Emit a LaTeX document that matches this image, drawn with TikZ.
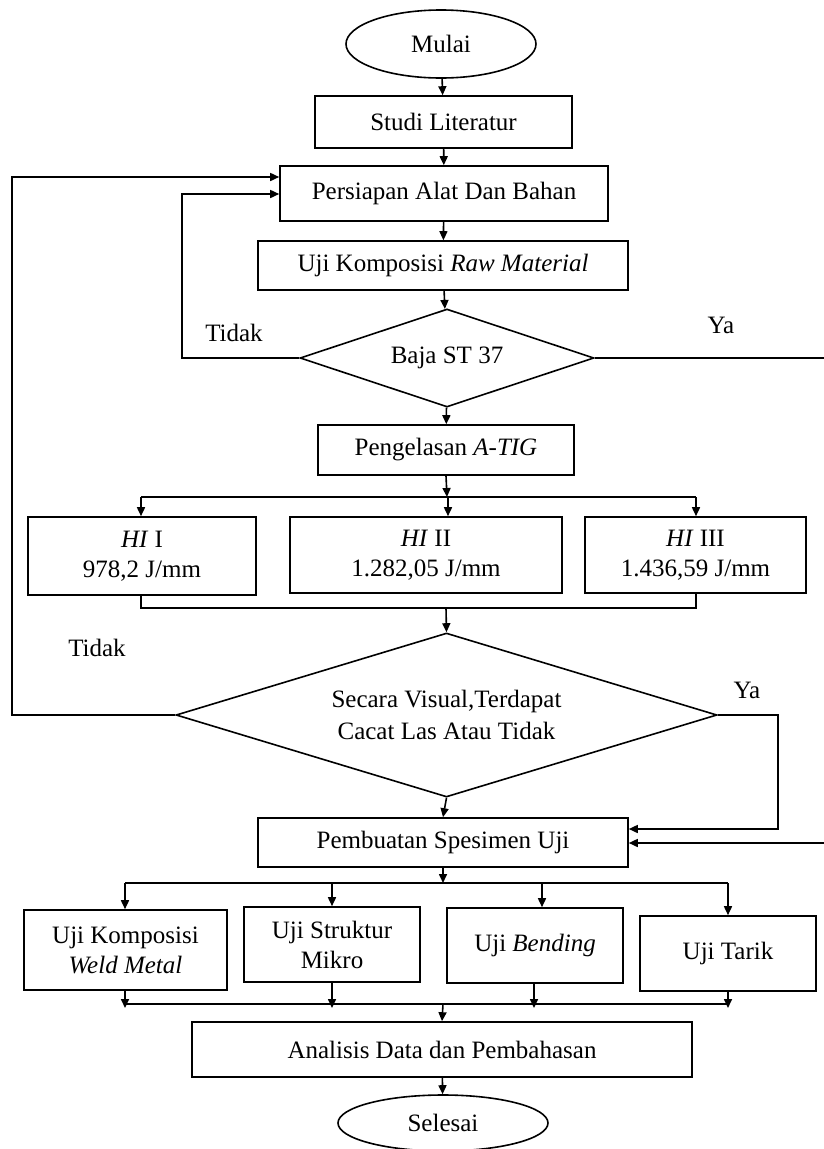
\documentclass[tikz,border=0pt]{standalone}
\usepackage{fontspec}
\setmainfont{Liberation Serif}
\usetikzlibrary{shapes.geometric,arrows.meta}
\begin{document}
\begin{tikzpicture}[x=1pt,y=-1pt, line width=1.6pt, font=\fontsize{25}{30}\selectfont,
  box/.style={draw, rectangle, inner sep=0pt, align=center},
  term/.style={draw, ellipse, inner sep=0pt},
  dec/.style={draw, diamond, inner sep=0pt, align=center},
  arr/.style={-{Triangle[length=9pt,width=8pt]}},
  lbl/.style={inner sep=0pt}]
\useasboundingbox (0,0) rectangle (824,1149);

% nodes
\node[term, minimum width=190pt, minimum height=68pt] (mulai) at (441,44) {Mulai};
\node[box, minimum width=257pt, minimum height=52pt] (studi) at (443.5,122) {Studi Literatur};
\node[box, minimum width=328pt, minimum height=55pt] (persiapan) at (444,193.5) {Persiapan Alat Dan Bahan};
\node[box, minimum width=370pt, minimum height=49pt] (raw) at (443,265.5) {Uji Komposisi \textit{Raw Material}};
\node[dec, aspect=3, minimum width=294pt, minimum height=98pt] (baja) at (447,358) {Baja ST 37};
\node[box, minimum width=256pt, minimum height=50pt] (las) at (446,450) {Pengelasan \textit{A-TIG}};
\node[box, minimum width=228pt, minimum height=78pt] (hi1) at (142,556) {\textit{HI} I\\978,2 J/mm};
\node[box, minimum width=272pt, minimum height=76pt] (hi2) at (426,555) {\textit{HI} II\\1.282,05 J/mm};
\node[box, minimum width=221pt, minimum height=76pt] (hi3) at (695.5,555) {\textit{HI} III\\1.436,59 J/mm};
\node[dec, aspect=3.3, minimum width=541pt, minimum height=164pt, font=\fontsize{25}{32}\selectfont] (visual) at (446.5,715) {Secara Visual,Terdapat\\Cacat Las Atau Tidak};
\node[box, minimum width=370pt, minimum height=49pt] (spes) at (443,842.5) {Pembuatan Spesimen Uji};
\node[box, minimum width=203pt, minimum height=80pt] (k1) at (125.5,950) {Uji Komposisi\\\textit{Weld Metal}};
\node[box, minimum width=176pt, minimum height=75pt] (k2) at (332,944.5) {Uji Struktur\\Mikro};
\node[box, minimum width=176pt, minimum height=75pt] (k3) at (535,945.5) {Uji \textit{Bending}};
\node[box, minimum width=176pt, minimum height=75pt] (k4) at (728,953.5) {Uji Tarik};
\node[box, minimum width=500pt, minimum height=55pt] (analisis) at (442,1049.5) {Analisis Data dan Pembahasan};
\node[term, minimum width=210pt, minimum height=56pt] (selesai) at (443,1123) {Selesai};

% labels
\node[lbl] (t1) at (234,333) {Tidak};
\node[lbl] (y1) at (721,325) {Ya};
\node[lbl] (t2) at (97,648) {Tidak};
\node[lbl] (y2) at (747,690) {Ya};

% coordinates
\coordinate (b1) at (447,497);
\coordinate (b1l) at (141,497);
\coordinate (b1m) at (448,497);
\coordinate (b1r) at (696,497);
\coordinate (c1) at (446,608);
\coordinate (c1l) at (141,608);
\coordinate (c1r) at (696,608);
\coordinate (loopA) at (182,194);
\coordinate (loopB) at (12,177);
\coordinate (yaA) at (830,843);
\coordinate (yaB) at (778,829);
\coordinate (b2) at (443,883);
\coordinate (b2a) at (125,883);
\coordinate (b2b) at (332,883);
\coordinate (b2c) at (542,883);
\coordinate (b2d) at (728,883);
\coordinate (c2) at (443,1004);
\coordinate (c2a) at (125,1004);
\coordinate (c2b) at (332,1004);
\coordinate (c2c) at (534,1004);
\coordinate (c2d) at (728,1004);

% main flow
\draw[arr] (mulai) -- (studi);
\draw[arr] (studi) -- (persiapan);
\draw[arr] (persiapan) -- (raw);
\draw[arr] (raw) -- (baja);
\draw[arr] (baja) -- (las);
\draw[arr] (las.south) -- (b1);
\draw (b1l) -- (b1r);
\draw[arr] (b1l) -- (b1l |- hi1.north);
\draw[arr] (b1m) -- (b1m |- hi2.north);
\draw[arr] (b1r) -- (b1r |- hi3.north);
\draw (c1l |- hi1.south) -- (c1l) -- (c1r) -- (c1r |- hi3.south);
\draw[arr] (c1) -- (visual.north);
\draw[arr] (visual.south) -- (spes.north);

% loops
\draw[arr] (baja.west) -| (loopA) -- (loopA -| persiapan.west);
\draw[arr] (visual.west) -| (loopB) -- (loopB -| persiapan.west);
\draw[arr] (baja.east) -| (yaA) -- (yaA -| spes.east);
\draw[arr] (visual.east) -| (yaB) -- (yaB -| spes.east);

% second branch
\draw[arr] (spes.south) -- (b2);
\draw (b2a) -- (b2d);
\draw[arr] (b2a) -- (b2a |- k1.north);
\draw[arr] (b2b) -- (b2b |- k2.north);
\draw[arr] (b2c) -- (b2c |- k3.north);
\draw[arr] (b2d) -- (b2d |- k4.north);
\draw[arr] (c2a |- k1.south) -- ([yshift=-4pt]c2a);
\draw[arr] (c2b |- k2.south) -- ([yshift=-4pt]c2b);
\draw[arr] (c2c |- k3.south) -- ([yshift=-4pt]c2c);
\draw[arr] (c2d |- k4.south) -- ([yshift=-4pt]c2d);
\draw (c2a) -- (c2d);
\draw[arr] (c2) -- (analisis.north);
\draw[arr] (analisis) -- (selesai);
\end{tikzpicture}
\end{document}
